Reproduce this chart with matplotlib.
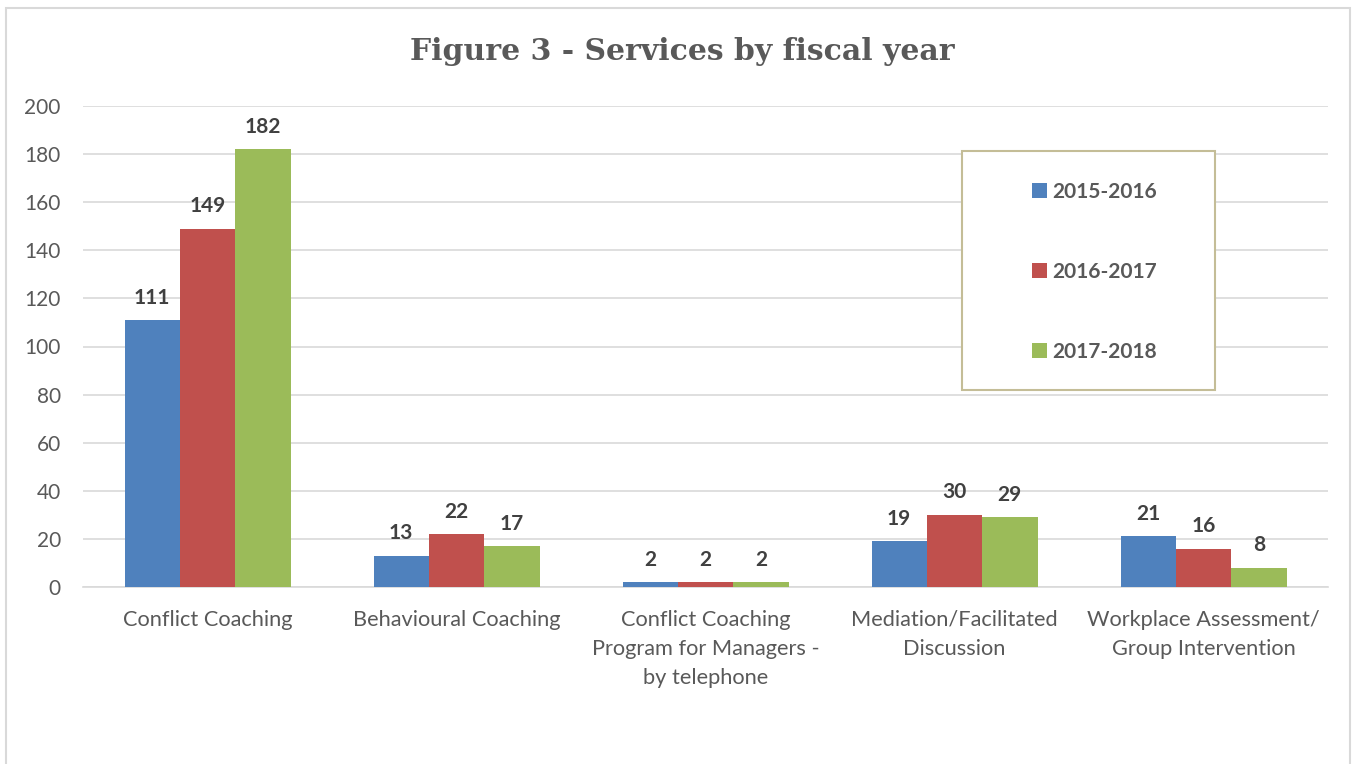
import matplotlib
matplotlib.use("Agg")
import matplotlib.pyplot as plt
from matplotlib.patches import Rectangle, Patch
import numpy as np

categories = ["Conflict Coaching", "Behavioural Coaching",
              "Conflict Coaching\nProgram for Managers -\nby telephone",
              "Mediation/Facilitated\nDiscussion",
              "Workplace Assessment/\nGroup Intervention"]
series_names = ["2015-2016", "2016-2017", "2017-2018"]
v2015 = [111, 13, 2, 19, 21]
v2016 = [149, 22, 2, 30, 16]
v2017 = [182, 17, 2, 29, 8]
yticks = [0, 20, 40, 60, 80, 100, 120, 140, 160, 180, 200]

colors = ["#4F81BD", "#C0504D", "#9BBB59"]
txt = "#595959"

fig = plt.figure(figsize=(13.57, 7.64), dpi=100)
# outer chart border
fig.patches.append(Rectangle((6/1357, -0.05), (1350-6)/1357, 1 - 8/764 + 0.05,
                             transform=fig.transFigure, fill=False,
                             edgecolor="#D9D9D9", linewidth=1.5))

ax = fig.add_axes([83/1357, 1-587/764, (1328-83)/1357, (587-106)/764])
x = np.arange(len(categories))
w = 1/4.5
for i, (vals, c) in enumerate(zip([v2015, v2016, v2017], colors)):
    bars = ax.bar(x + (i-1)*w, vals, width=w, color=c, zorder=3, label=series_names[i])
    for b, v in zip(bars, vals):
        ax.annotate(str(v), (b.get_x()+b.get_width()/2, v), xytext=(0, 9),
                    textcoords="offset points", ha="center", va="bottom",
                    fontsize=15, fontweight="bold", color="#404040", family="Lato")

ax.set_xlim(-0.5, len(categories)-0.5)
ax.set_ylim(0, 200)
ax.set_yticks(yticks)
ax.grid(axis="y", color="#D9D9D9", linewidth=1.2, zorder=0)
for s in ["top", "right", "left"]:
    ax.spines[s].set_visible(False)
ax.spines["bottom"].set_color("#D9D9D9")
ax.spines["bottom"].set_linewidth(1.2)
ax.tick_params(axis="y", length=0, labelsize=15, labelcolor=txt, pad=16)
ax.tick_params(axis="x", length=0, labelsize=15.7, labelcolor=txt, pad=16.5)
ax.set_xticks(x)
ax.set_xticklabels(categories, family="Lato", linespacing=1.56)
for lab in ax.get_yticklabels():
    lab.set_family("Lato")

fig.text(682/1357, 1-52/764, "Figure 3 - Services by fiscal year", ha="center", va="center",
         fontsize=21.5, fontweight="bold", color=txt, family="DejaVu Serif")

# legend frame
lx0, lx1, ly0, ly1 = 962, 1215, 151, 390
fig.patches.append(Rectangle((lx0/1357, 1-ly1/764), (lx1-lx0)/1357, (ly1-ly0)/764,
                             transform=fig.transFigure, fill=True, facecolor="white",
                             edgecolor="#C4BD97", linewidth=1.5, zorder=5))
handles = [Patch(facecolor=c, edgecolor="none") for c in colors]
leg = fig.legend(handles, series_names, loc="center",
                 bbox_to_anchor=(((lx0+lx1)/2+6)/1357, 1-((ly0+ly1)/2+1.5)/764),
                 frameon=False, handlelength=0.7, handleheight=0.7, handletextpad=0.25,
                 labelspacing=2.88, prop={"family": "Lato", "weight": "bold", "size": 15})
for t in leg.get_texts():
    t.set_color(txt)
leg.set_zorder(6)

fig.savefig("out.png", dpi=100)
